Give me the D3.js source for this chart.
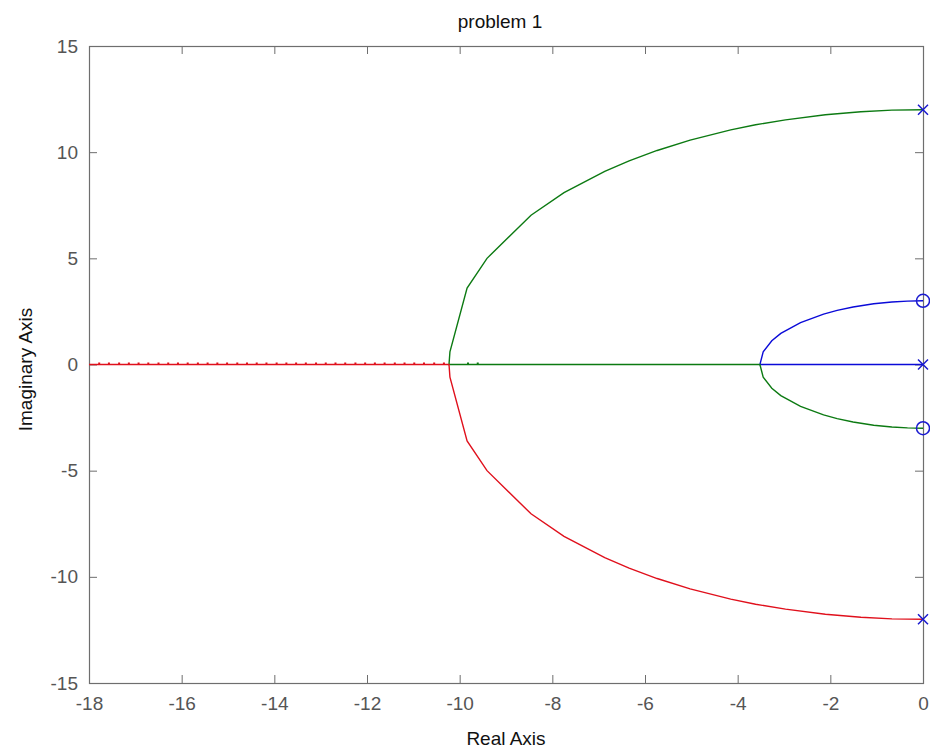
<!DOCTYPE html>
<html>
<head>
<meta charset="utf-8">
<script src="https://cdn.jsdelivr.net/npm/d3@7"></script>
<style>
  html, body { margin: 0; padding: 0; background: #ffffff; }
  svg { display: block; }
  text { font-family: "Liberation Sans", Arial, sans-serif; }
</style>
</head>
<body>
<svg id="chart" width="930" height="754"></svg>
<script>
// ---- data ----
const titleText = "problem 1";
const xLabelText = "Real Axis";
const yLabelText = "Imaginary Axis";
const xDomain = [-18, 0];
const yDomain = [-15, 15];
const xTicks = [-18, -16, -14, -12, -10, -8, -6, -4, -2, 0];
const yTicks = [-15, -10, -5, 0, 5, 10, 15];

// branch 1 (blue): pole at 0 -> breakaway -3.52 -> zero at +3j
const blueBranch = [
  [0, 0], [-3.52, 0], [-3.449, 0.597], [-3.263, 1.119], [-3.069, 1.464],
  [-2.643, 1.975], [-2.146, 2.373], [-1.853, 2.547], [-1.509, 2.708],
  [-1.064, 2.858], [-0.672, 2.944], [-0.335, 2.986], [0, 3]
];
// branch 2 (green): pole at +12j -> break-in -10.23 -> -3.52 -> zero at -3j
const greenBranch = [
  [0, 12], [-0.67, 11.98], [-1.34, 11.905], [-2.108, 11.76], [-2.967, 11.52],
  [-3.613, 11.29], [-4.15, 11.05], [-5.026, 10.57], [-5.738, 10.08],
  [-6.343, 9.59], [-6.869, 9.10], [-7.748, 8.09], [-8.46, 7.03], [-9.41, 5.0],
  [-9.84, 3.6], [-10.21, 0.6], [-10.23, 0], [-9.82, 0], [-9.61, 0], [-3.52, 0],
  [-3.449, -0.597], [-3.263, -1.119], [-3.069, -1.464], [-2.643, -1.975],
  [-2.146, -2.373], [-1.853, -2.547], [-1.509, -2.708], [-1.064, -2.858],
  [-0.672, -2.944], [-0.335, -2.986], [0, -3]
];
// branch 3 (red): pole at -12j -> break-in -10.23 -> along real axis to -inf
const redBranch = [
  [0, -12], [-0.67, -11.98], [-1.34, -11.905], [-2.108, -11.76], [-2.967, -11.52],
  [-3.613, -11.29], [-4.15, -11.05], [-5.026, -10.57], [-5.738, -10.08],
  [-6.343, -9.59], [-6.869, -9.10], [-7.748, -8.09], [-8.46, -7.03], [-9.41, -5.0],
  [-9.84, -3.6], [-10.21, -0.6], [-10.23, 0],
  [-10.34, 0], [-10.55, 0], [-10.77, 0], [-10.98, 0], [-11.19, 0], [-11.40, 0],
  [-11.62, 0], [-11.83, 0], [-12.04, 0], [-12.25, 0], [-12.47, 0], [-12.68, 0],
  [-12.89, 0], [-13.10, 0], [-13.32, 0], [-13.53, 0], [-13.74, 0], [-13.95, 0],
  [-14.17, 0], [-14.38, 0], [-14.59, 0], [-14.80, 0], [-15.02, 0], [-15.23, 0],
  [-15.44, 0], [-15.65, 0], [-15.87, 0], [-16.08, 0], [-16.29, 0], [-16.50, 0],
  [-16.72, 0], [-16.93, 0], [-17.14, 0], [-17.35, 0], [-17.57, 0], [-17.78, 0],
  [-18.5, 0]
];
const poles = [[0, 12], [0, 0], [0, -12]];
const zeros = [[0, 3], [0, -3]];

const branchColors = ["#0a0ad8", "#0c7a12", "#e0101c"];
const markerColor = "#1a1ad0";

// ---- layout ----
const svg = d3.select("#chart");
const padL = 89, padR = 923, padT = 46, padB = 683;
const x = d3.scaleLinear().domain(xDomain).range([padL, padR]);
const y = d3.scaleLinear().domain(yDomain).range([padB, padT]);

const axisColor = "#6e6e6e";
const tickTextColor = "#555555";
const fontSize = 19;

svg.append("defs").append("clipPath").attr("id", "plotclip")
  .append("rect").attr("x", padL).attr("y", padT)
  .attr("width", padR - padL).attr("height", padB - padT);

// ---- axes (MATLAB style: box, inward ticks on all sides) ----
const tickLen = 8;
function styleAxis(g) {
  g.select(".domain").remove();
  g.selectAll(".tick line").attr("stroke", axisColor).attr("stroke-width", 1);
  g.selectAll(".tick text").attr("fill", tickTextColor)
    .style("font-size", fontSize + "px")
    .style("font-family", '"Liberation Sans", Arial, sans-serif');
}
const fmt = d => String(d).replace("\u2212", "-");

svg.append("g").attr("transform", `translate(0,${padB})`)
  .call(d3.axisBottom(x).tickValues(xTicks).tickSize(-tickLen).tickPadding(14).tickFormat(fmt))
  .call(styleAxis);
svg.append("g").attr("transform", `translate(0,${padT})`)
  .call(d3.axisTop(x).tickValues(xTicks).tickSize(-tickLen).tickFormat(""))
  .call(styleAxis);
svg.append("g").attr("transform", `translate(${padL},0)`)
  .call(d3.axisLeft(y).tickValues(yTicks).tickSize(-tickLen).tickPadding(11).tickFormat(fmt))
  .call(styleAxis);
svg.append("g").attr("transform", `translate(${padR},0)`)
  .call(d3.axisRight(y).tickValues(yTicks).tickSize(-tickLen).tickFormat(""))
  .call(styleAxis);

svg.append("rect")
  .attr("x", padL + 0.5).attr("y", padT + 0.5)
  .attr("width", padR - padL).attr("height", padB - padT)
  .attr("fill", "none").attr("stroke", axisColor).attr("stroke-width", 1.2);

// ---- branches ----
const line = d3.line().x(d => x(d[0])).y(d => y(d[1]));
const branches = [blueBranch, greenBranch, redBranch];
const plotG = svg.append("g").attr("clip-path", "url(#plotclip)");
branches.forEach((b, i) => {
  plotG.append("path").datum(b)
    .attr("d", line)
    .attr("fill", "none")
    .attr("stroke", branchColors[i])
    .attr("stroke-width", 1.4)
    .attr("stroke-linejoin", "miter");
  const axisPts = b.filter(d => d[1] === 0);
  const interior = axisPts.slice(1, axisPts.length - 1);
  plotG.selectAll(null).data(interior).enter().append("rect")
    .attr("x", d => x(d[0]) - 1).attr("y", d => y(d[1]) - 2)
    .attr("width", 2).attr("height", 1.5)
    .attr("fill", branchColors[i]);
});

// ---- pole (x) and zero (o) markers ----
const xs = 5;
svg.selectAll(".pole").data(poles).enter().append("path")
  .attr("class", "pole")
  .attr("d", d => {
    const cx = x(d[0]), cy = y(d[1]);
    return `M${cx - xs},${cy - xs}L${cx + xs},${cy + xs}M${cx - xs},${cy + xs}L${cx + xs},${cy - xs}`;
  })
  .attr("stroke", markerColor).attr("stroke-width", 1.5).attr("fill", "none");
svg.selectAll(".zero").data(zeros).enter().append("circle")
  .attr("class", "zero")
  .attr("cx", d => x(d[0])).attr("cy", d => y(d[1]))
  .attr("r", 6.5)
  .attr("stroke", markerColor).attr("stroke-width", 1.5).attr("fill", "none");

// ---- titles ----
svg.append("text").attr("x", 500).attr("y", 28)
  .attr("text-anchor", "middle").attr("fill", "#111")
  .style("font-size", fontSize + "px").text(titleText);
svg.append("text").attr("x", (padL + padR) / 2).attr("y", 745)
  .attr("text-anchor", "middle").attr("fill", "#111")
  .style("font-size", fontSize + "px").text(xLabelText);
svg.append("text")
  .attr("transform", `translate(32,${(padT + padB) / 2 + 5}) rotate(-90)`)
  .attr("text-anchor", "middle").attr("fill", "#111")
  .style("font-size", fontSize + "px").text(yLabelText);
</script>
</body>
</html>
